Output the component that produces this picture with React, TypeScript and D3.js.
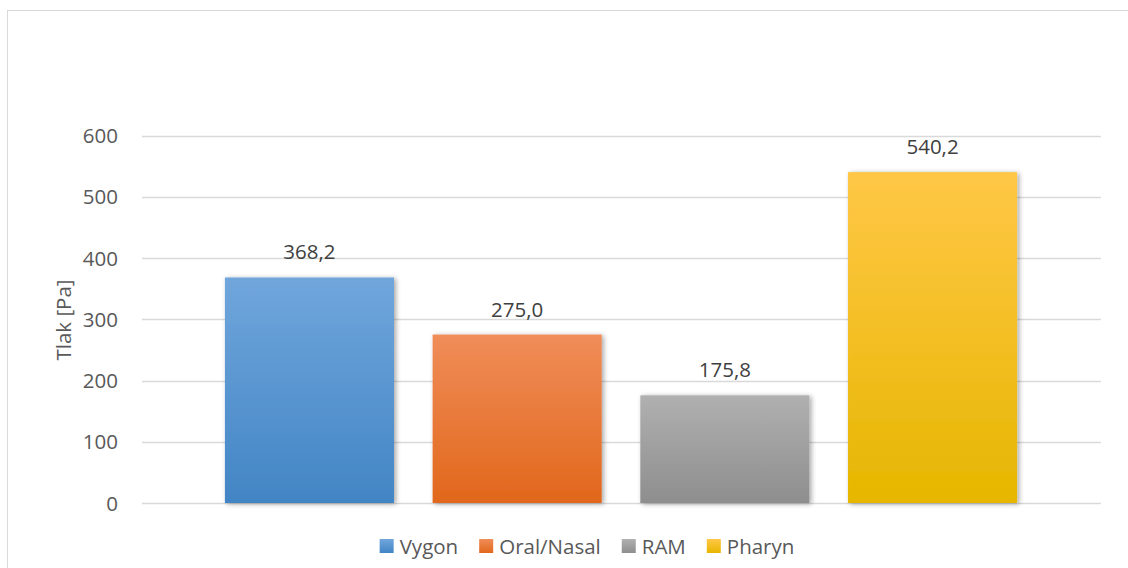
import { useEffect, useRef } from "react";
import * as d3 from "d3";

const categories = ["Vygon", "Oral/Nasal", "RAM", "Pharyn"];
const values = [368.2, 275.0, 175.8, 540.2];
const yTicks = [0, 100, 200, 300, 400, 500, 600];
const gradTop = ["#70a6dc", "#f08d59", "#b0b0b0", "#ffc746"];
const gradBottom = ["#4285c5", "#e1671b", "#8e8e8e", "#e6b600"];

const W = 1128;
const H = 568;
const FONT = "'Open Sans', sans-serif";
const FS = 20.5;

function App() {
  const ref = useRef<SVGSVGElement | null>(null);

  useEffect(() => {
    const svg = d3.select(ref.current);
    svg.selectAll("*").remove();

    const defs = svg.append("defs");
    categories.forEach((c, i) => {
      const g = defs
        .append("linearGradient")
        .attr("id", `grad${i}`)
        .attr("x1", 0)
        .attr("y1", 0)
        .attr("x2", 0)
        .attr("y2", 1);
      g.append("stop").attr("offset", "0%").attr("stop-color", gradTop[i]);
      g.append("stop").attr("offset", "100%").attr("stop-color", gradBottom[i]);
    });
    defs
      .append("filter")
      .attr("id", "shadow")
      .attr("x", "-10%")
      .attr("y", "-10%")
      .attr("width", "130%")
      .attr("height", "130%")
      .append("feDropShadow")
      .attr("dx", 2)
      .attr("dy", 1)
      .attr("stdDeviation", 2.5)
      .attr("flood-color", "#000")
      .attr("flood-opacity", 0.35);

    // chart frame
    svg
      .append("rect")
      .attr("x", 7.5)
      .attr("y", 10.5)
      .attr("width", W)
      .attr("height", H)
      .attr("fill", "#fff")
      .attr("stroke", "#d9d9d9");

    const y = d3.scaleLinear().domain([0, 600]).range([503, 135.5]);
    const x = d3
      .scaleBand()
      .domain(categories)
      .range([205.6, 1036.4])
      .paddingInner(0.186)
      .paddingOuter(0.093);

    // gridlines
    svg
      .append("g")
      .selectAll("line")
      .data(yTicks)
      .enter()
      .append("line")
      .attr("x1", 142)
      .attr("x2", 1101)
      .attr("y1", (d) => Math.round(y(d)) + 0.5)
      .attr("y2", (d) => Math.round(y(d)) + 0.5)
      .attr("stroke", "#d9d9d9")
      .attr("stroke-width", 1.5);

    // tick labels
    svg
      .append("g")
      .selectAll("text")
      .data(yTicks)
      .enter()
      .append("text")
      .attr("x", 118)
      .attr("y", (d) => y(d) + 7.5)
      .attr("text-anchor", "end")
      .attr("font-family", FONT)
      .attr("font-size", FS)
      .attr("fill", "#595959")
      .text((d) => d);

    // y axis title
    svg
      .append("text")
      .attr("transform", `translate(71, 320) rotate(-90)`)
      .attr("text-anchor", "middle")
      .attr("font-family", FONT)
      .attr("font-size", FS)
      .attr("fill", "#595959")
      .text("Tlak [Pa]");

    // bars
    svg
      .append("g")
      .selectAll("rect")
      .data(values)
      .enter()
      .append("rect")
      .attr("x", (d, i) => x(categories[i])!)
      .attr("y", (d) => y(d))
      .attr("width", x.bandwidth())
      .attr("height", (d) => y(0) - y(d))
      .attr("fill", (d, i) => `url(#grad${i})`)
      .attr("filter", "url(#shadow)");

    // data labels
    svg
      .append("g")
      .selectAll("text")
      .data(values)
      .enter()
      .append("text")
      .attr("x", (d, i) => x(categories[i])! + x.bandwidth() / 2)
      .attr("y", (d) => y(d) - 18)
      .attr("text-anchor", "middle")
      .attr("font-family", FONT)
      .attr("font-size", FS)
      .attr("fill", "#404040")
      .text((d) => d.toFixed(1).replace(".", ","));

    // legend
    const legend = svg.append("g");
    const items = legend
      .selectAll("g")
      .data(categories)
      .enter()
      .append("g");
    items
      .append("rect")
      .attr("width", 14)
      .attr("height", 14)
      .attr("y", 539)
      .attr("fill", (d, i) => `url(#grad${i})`);
    items
      .append("text")
      .attr("x", 20)
      .attr("y", 553.5)
      .attr("font-family", FONT)
      .attr("font-size", FS)
      .attr("fill", "#595959")
      .text((d) => d);

    let offset = 0;
    const starts: number[] = [];
    items.each(function () {
      starts.push(offset);
      const t = d3.select(this).select("text").node() as SVGTextElement;
      offset += 20 + t.getComputedTextLength() + 21;
    });
    const total = offset - 21;
    const left = 587 - total / 2;
    items.attr("transform", (d, i) => `translate(${left + starts[i]}, 0)`);

    return () => {
      svg.selectAll("*").remove();
    };
  });

  return (
    <div style={{ position: "absolute", left: 0, top: 0 }}>
      <svg ref={ref} width={W} height={H} style={{ display: "block" }} />
    </div>
  );
}

export default App;
